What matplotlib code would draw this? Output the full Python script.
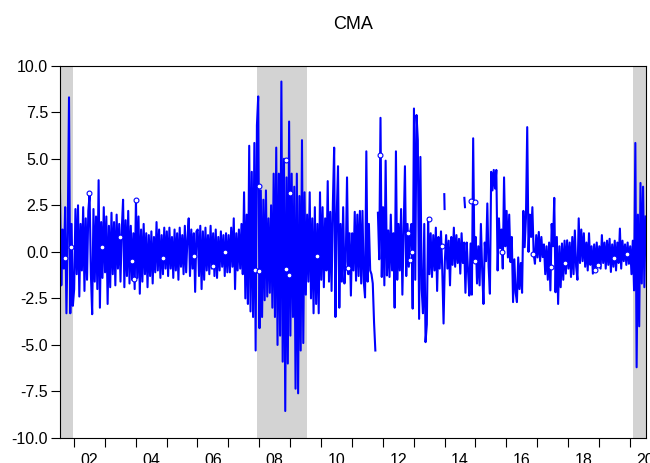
import numpy as np
import matplotlib.pyplot as plt
from matplotlib.ticker import FormatStrFormatter

nan = float('nan')

# semi-monthly observations, first one in mid 2001
start = 2001.55
per_year = 24

cma = [
    # 2001 (Jul-Dec)
    3.3, -1.8, 1.2, -0.9, 2.4, -3.3, 1.0, 8.3, -3.3, 1.5, -2.9,
    # 2002
    -2.0, 2.3, -1.2, 2.5, -2.4, 1.5, -1.0, 2.4, -2.1, 1.8, -1.5, 2.2,
    3.1, -1.2, -3.35, 2.3, -1.6, 1.9, -2.0, 3.85, -3.0, 1.6, -1.4, 2.4,
    # 2003
    -1.1, 1.9, -2.8, 1.4, -1.9, 2.1, -1.2, 1.6, -1.8, 2.0, -0.9, 1.5,
    -1.6, 1.2, 2.8, -1.9, 1.7, -1.3, 2.2, -1.7, 1.4, -1.5, 1.0, -2.0,
    # 2004
    2.8, -1.4, 1.9, -2.25, 1.2, -1.6, 1.5, -1.2, 1.0, -1.9, 0.9, -1.3,
    1.1, -1.7, 0.8, -1.1, 1.6, -1.0, 1.2, -1.4, 0.9, -1.2, 1.3, -0.9,
    # 2005
    1.1, -1.3, 1.3, -0.9, 0.8, -1.4, 1.2, -1.0, 1.0, -1.5, 1.3, -0.8,
    0.9, -1.2, 1.4, -1.1, 0.7, 1.8, -1.3, 1.2, -0.9, 1.0, -2.15, 1.1,
    # 2006
    1.2, -1.3, 1.4, -2.0, 1.1, -1.5, 1.3, -1.0, 0.9, -1.2, 1.4, -0.9,
    1.0, -1.3, 1.2, -1.4, 0.8, -1.0, 1.1, -0.8, 0.9, -1.3, 1.0, -1.1,
    # 2007
    0.9, -1.1, 1.3, -0.8, 1.8, -2.0, 1.0, -1.0, 1.2, -0.9, 1.5, -1.2,
    3.2, -2.5, 2.0, -2.8, 5.7, -3.2, 4.3, -3.5, 5.85, -5.3, 6.8, 8.35,
    # 2008
    -4.1, 3.3, -3.5, 2.8, -2.6, 3.3, -2.4, 1.8, -2.2, 2.5, -3.0, 4.2,
    -3.5, 5.6, -5.0, 4.2, -4.5, 9.15, -5.9, 5.0, -8.55, 4.0, -6.0, 7.0,
    # 2009
    -4.5, 4.2, -3.5, 3.5, -7.35, 4.2, -7.6, 3.0, -5.3, 6.0, -4.9, 3.2,
    -2.3, 2.0, -1.6, 3.2, -2.5, 1.8, -3.3, 2.4, -2.8, 1.5, -3.3, 3.2,
    # 2010
    -1.5, 2.4, -1.9, 1.8, -1.0, 3.8, -1.6, 2.15, -2.1, 2.6, 5.6, -3.5,
    2.0, 4.6, -3.0, 1.5, -1.6, 2.4, -1.7, -0.5, 4.0, -1.2, 1.0, -2.35,
    # 2011
    1.0, -1.0, 2.15, -1.55, 2.0, -1.3, 2.2, -1.7, 2.2, -1.6, -2.45, 5.4,
    -1.6, 1.5, -1.0, -1.2, -1.7, -3.8, -5.3, nan, 2.1, -0.4, 7.2, -1.35,
    # 2012
    2.4, -1.8, 4.9, -1.27, 1.15, -1.35, 2.0, -1.0, 1.0, -3.0, 5.4, -1.5,
    1.5, -1.0, 2.3, -2.3, 1.2, 4.6, -1.3, 1.5, -0.8, 1.0, 1.5, -3.05,
    # 2013
    7.7, -1.5, 7.35, 6.0, -3.6, 5.1, -2.0, -3.3, 1.5, -4.85, -3.9, 1.8,
    -1.2, 1.0, -1.35, 0.9, -1.0, 1.3, -2.1, 0.8, -0.9, 1.1, -1.0, -3.85,
    # 2014
    -0.5, 0.9, -0.9, 0.6, -1.8, 0.8, -0.7, 1.3, -0.8, 0.9, -0.6, 0.7,
    -1.17, 1.0, -0.6, 0.5, -2.2, 0.5, -1.0, -2.35, 0.45, -2.3, 6.1, -0.55,
    # 2015
    0.8, -1.7, 0.3, -1.8, 1.5, -1.0, -2.8, 0.5, -0.5, 2.6, -0.8, -2.25,
    4.3, 3.3, 4.4, 3.4, 4.4, -1.0, 1.8, 0.2, 1.2, -0.9, 4.0, 0.3,
    # 2016
    2.2, -0.3, 2.0, -0.55, 0.8, -2.7, -0.4, -2.2, -2.7, -0.3, -2.0, -0.6,
    -2.2, 2.2, 0.25, 1.8, 6.7, 0.0, 2.0, 0.8, 2.4, -0.1, -0.64, 0.9,
    # 2017
    -0.3, 1.07, -0.5, 0.8, -0.28, 0.4, -1.2, 0.3, -1.5, 0.5, -2.07, 1.5,
    0.3, 2.9, -2.17, 0.8, -2.8, 0.3, -1.9, 0.45, -1.5, 0.6, -1.17, 0.62,
    # 2018
    -0.9, 0.5, -1.35, 0.8, -1.2, 1.15, -0.8, -1.5, 1.8, -0.6, 1.2, -0.5,
    1.0, -0.8, 0.5, -1.0, 1.0, -0.7, 0.3, -1.17, 0.4, -1.0, 0.5, -0.8,
    # 2019
    0.3, -0.9, 0.9, -0.6, 0.5, -0.9, 0.6, -0.7, 0.7, -1.08, 0.4, -0.8,
    0.6, -1.0, 0.5, -0.6, 1.25, -0.9, 0.6, -0.5, 0.4, -0.7, 0.5, -0.64,
    # 2020 (Jan-Jun)
    0.3, -1.2, 0.6, -2.07, 5.85, -6.2, 2.0, -4.0, 3.7, -1.7, 3.5, -1.9, 1.9,
]

# short stand-alone pieces of the series above the main band
seg_t = [2013.99, 2014.0, nan, 2014.64, 2014.66]
seg_v = [3.1, 2.3, nan, 2.9, 2.4]

# isolated observations (drawn as circles)
circ_t = [2001.71, 2001.89, 2002.49, 2002.90, 2003.49, 2003.87, 2003.94, 2004.01,
          2004.87, 2005.88, 2006.49, 2006.89, 2007.86, 2007.98, 2007.99, 2008.86,
          2008.86, 2008.95, 2008.99, 2009.87, 2010.88, 2011.90, 2012.82, 2012.87,
          2012.96, 2013.50, 2013.90, 2014.87, 2014.97, 2014.99, 2015.87, 2016.86,
          2017.46, 2017.89, 2018.88, 2018.97, 2019.49, 2019.89]
circ_v = [-0.35, 0.26, 3.14, 0.26, 0.8, -0.5, -1.48, 2.78,
          -0.35, -0.2, -0.78, 0.0, -1.0, 3.55, -1.05, 4.93,
          -0.9, -1.27, 3.17, -0.24, -0.87, 5.2, 1.03, -0.42,
          0.0, 1.75, 0.3, 2.72, -0.5, 2.68, 0.0, -0.1,
          -0.82, -0.58, -1.0, -0.73, -0.31, -0.1]

# recession shading
rec_start = [2001.55, 2007.93, 2020.10]
rec_end = [2001.97, 2009.53, 2020.52]

years = list(range(2002, 2021))
xlabels = ['02', '04', '06', '08', '10', '12', '14', '16', '18', '20']

plt.rcParams['font.family'] = ['Liberation Sans', 'DejaVu Sans']

t = start + np.arange(len(cma)) / per_year

fig = plt.figure(figsize=(6.5, 4.63), dpi=100)
ax = fig.add_axes([60 / 650, 25 / 463, 586 / 650, 372.3 / 463])

for a, b in zip(rec_start, rec_end):
    ax.axvspan(a, b, color='#d3d3d3', lw=0, zorder=0)

ax.plot(t, cma, color='blue', lw=1.5)
ax.plot(seg_t, seg_v, color='blue', lw=1.5)
ax.plot(circ_t, circ_v, 'o', ms=3.5, mfc='white', mec='blue', mew=0.8, ls='none')

ax.set_xlim(2001.55, 2020.52)
ax.set_ylim(-10, 10)
ax.set_yticks(np.arange(-10, 10.1, 2.5))
ax.yaxis.set_major_formatter(FormatStrFormatter('%.1f'))

# ticks at year boundaries, labels in the middle of even years
ax.set_xticks(years)
ax.set_xticklabels([])
ax.set_xticks([int('20' + s) + 0.5 for s in xlabels], labels=xlabels, minor=True)

ax.tick_params(axis='both', which='major', direction='out', length=6.5,
               width=0.8, labelsize=11.5, pad=2)
ax.tick_params(axis='x', which='minor', length=0, labelsize=11.5, pad=11)
for s in ax.spines.values():
    s.set_linewidth(0.8)

ax.set_title('CMA', fontsize=13, pad=26.5)

fig.savefig('out.png', dpi=100)
